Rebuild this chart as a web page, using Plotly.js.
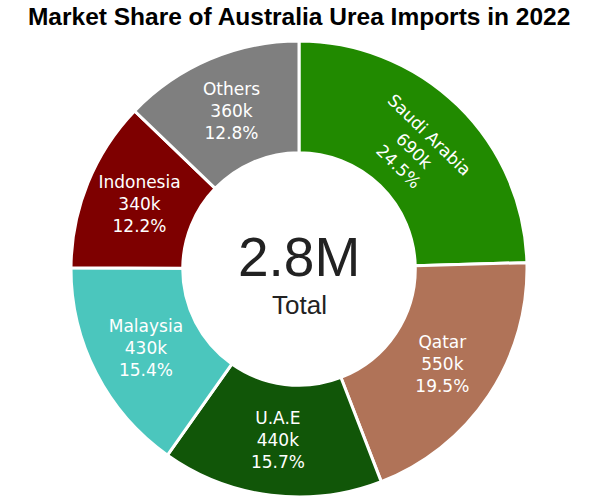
<!DOCTYPE html>
<html>
<head>
<meta charset="utf-8">
<script src="https://cdn.plot.ly/plotly-3.0.1.min.js"></script>
<style>html,body{margin:0;padding:0;background:#fff;}#chart{width:590px;height:503px;}</style>
</head>
<body>
<div id="chart"></div>
<script>
const countries = ["Saudi Arabia", "Qatar", "U.A.E", "Malaysia", "Indonesia", "Others"];
const importsK = [690, 550, 440, 430, 340, 360];
const shareLabels = ["24.5%", "19.5%", "15.7%", "15.4%", "12.2%", "12.8%"];
const sliceColors = ["#218A00", "#B07358", "#115608", "#4BC6BD", "#7E0000", "#7F7F7F"];
const totalLabel = "2.8M";
const tangentialLabels = ["Saudi Arabia"];

const fullText = countries.map((c, i) => c + "<br>" + importsK[i] + "k<br>" + shareLabels[i]);
const textTangential = fullText.map((t, i) => tangentialLabels.includes(countries[i]) ? t : "");
const textHorizontal = fullText.map((t, i) => tangentialLabels.includes(countries[i]) ? "" : t);

const common = {
  type: "pie",
  labels: countries,
  values: importsK,
  sort: false,
  direction: "clockwise",
  rotation: 0,
  hole: 0.51,
  textinfo: "text",
  textposition: "inside",
  textfont: {family: "DejaVu Sans", size: 17, color: "#ffffff"},
  hoverinfo: "none",
  showlegend: false
};

const traceMain = Object.assign({}, common, {
  marker: {colors: sliceColors, line: {color: "#ffffff", width: 3}},
  text: textTangential,
  insidetextorientation: "tangential"
});
const traceLabels = Object.assign({}, common, {
  marker: {colors: countries.map(() => "rgba(0,0,0,0)"), line: {width: 0}},
  text: textHorizontal,
  insidetextorientation: "horizontal"
});

const layout = {
  width: 590, height: 503,
  margin: {l: 8, r: 0, t: 41, b: 6},
  paper_bgcolor: "#ffffff",
  title: {text: "<b>Market Share of Australia Urea Imports in 2022</b>", x: 0.507, xanchor: "center", y: 0.968, yanchor: "middle",
          font: {family: "Liberation Sans", size: 24.5, color: "#000000"}},
  annotations: [
    {text: totalLabel, x: 0.5, y: 0.527, xref: "paper", yref: "paper", showarrow: false,
     font: {family: "Liberation Sans", size: 55, color: "#222222"}},
    {text: "Total", x: 0.5, y: 0.42, xref: "paper", yref: "paper", showarrow: false,
     font: {family: "Liberation Sans", size: 26, color: "#222222"}}
  ]
};

Plotly.newPlot("chart", [traceMain, traceLabels], layout, {displayModeBar: false, staticPlot: true});
</script>
</body>
</html>
